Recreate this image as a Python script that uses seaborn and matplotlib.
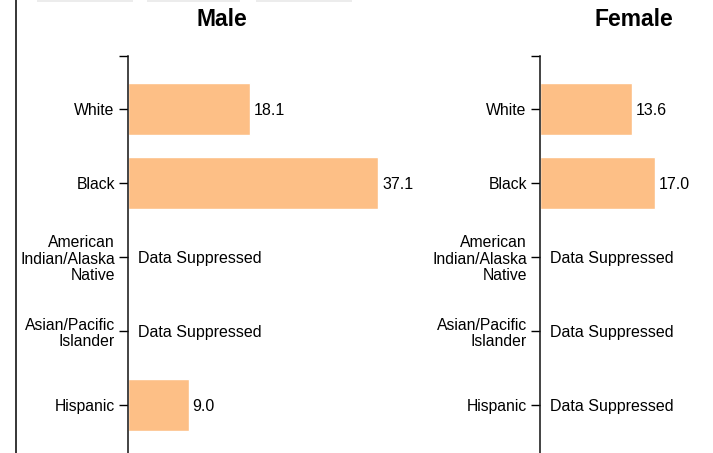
import numpy as np
import pandas as pd
import matplotlib
matplotlib.use("Agg")
import matplotlib.pyplot as plt
import seaborn as sns

races = ["White", "Black", "American\nIndian/Alaska\nNative", "Asian/Pacific\nIslander", "Hispanic"]
male_rates = [18.1, 37.1, np.nan, np.nan, 9.0]
female_rates = [13.6, 17.0, np.nan, np.nan, np.nan]

bar_color = "#fdbf86"

sns.set_style("white")
plt.rcParams["font.family"] = ["Liberation Sans", "DejaVu Sans"]
plt.rcParams["text.color"] = "black"
plt.rcParams["ytick.labelcolor"] = "black"

W, H = 713, 453
fig = plt.figure(figsize=(W / 100, H / 100), dpi=100)

px_per_unit = 6.74
axis_top = 56
first_center = 109
step = 74


def draw_panel(left_px, width_px, rates, title, title_x):
    ax = fig.add_axes([left_px / W, 0, width_px / W, (H - axis_top) / H])
    df = pd.DataFrame({"race": races, "rate": rates})
    shown = df.dropna()
    sns.barplot(data=shown, x="rate", y="race", order=races, color=bar_color,
                width=0.69, saturation=1, ax=ax)
    top = -(first_center - axis_top) / step
    bottom = (H - first_center) / step
    ax.set_ylim(bottom, top)
    ax.set_xlim(0, width_px / px_per_unit)
    for i, v in enumerate(rates):
        if np.isnan(v):
            ax.annotate("Data Suppressed", xy=(0, i), xytext=(10, 0),
                        textcoords="offset pixels", va="center_baseline", ha="left",
                        fontsize=11.5, color="black")
        else:
            ax.annotate(f"{v:.1f}", xy=(v, i), xytext=(4, 0),
                        textcoords="offset pixels", va="center_baseline", ha="left",
                        fontsize=11.5, color="black")
    ax.set_xlabel("")
    ax.set_ylabel("")
    ax.set_xticks([])
    ax.set_yticks(range(len(races)))
    ax.set_yticklabels(races, multialignment="right", linespacing=1.1)
    ax.set_yticks([top], minor=True)
    ax.tick_params(axis="y", which="both", length=6.5, width=1.0, color="black",
                   pad=3, labelsize=11.3, left=True, labelcolor="black")
    for s in ["top", "right", "bottom"]:
        ax.spines[s].set_visible(False)
    ax.spines["left"].set_color("#111111")
    ax.spines["left"].set_linewidth(1.1)
    ax.patch.set_alpha(0)
    fig.text(title_x / W, 1 - 20 / H, title, ha="center", va="center",
             fontsize=16.5, fontweight="bold", color="black")
    return ax


draw_panel(128, 260, male_rates, "Male", 222)
draw_panel(540, 170, female_rates, "Female", 634)

# left frame line and faint top boxes from the page
fig.add_artist(plt.Line2D([16 / W, 16 / W], [0, 1], color="black", lw=1.1))
for x0, x1 in [(37, 133), (147, 240), (256, 352)]:
    fig.add_artist(plt.Rectangle((x0 / W, 1 - 2 / H), (x1 - x0) / W, 2 / H,
                                 color="#ececec", lw=0))

fig.savefig("out.png", dpi=100)
